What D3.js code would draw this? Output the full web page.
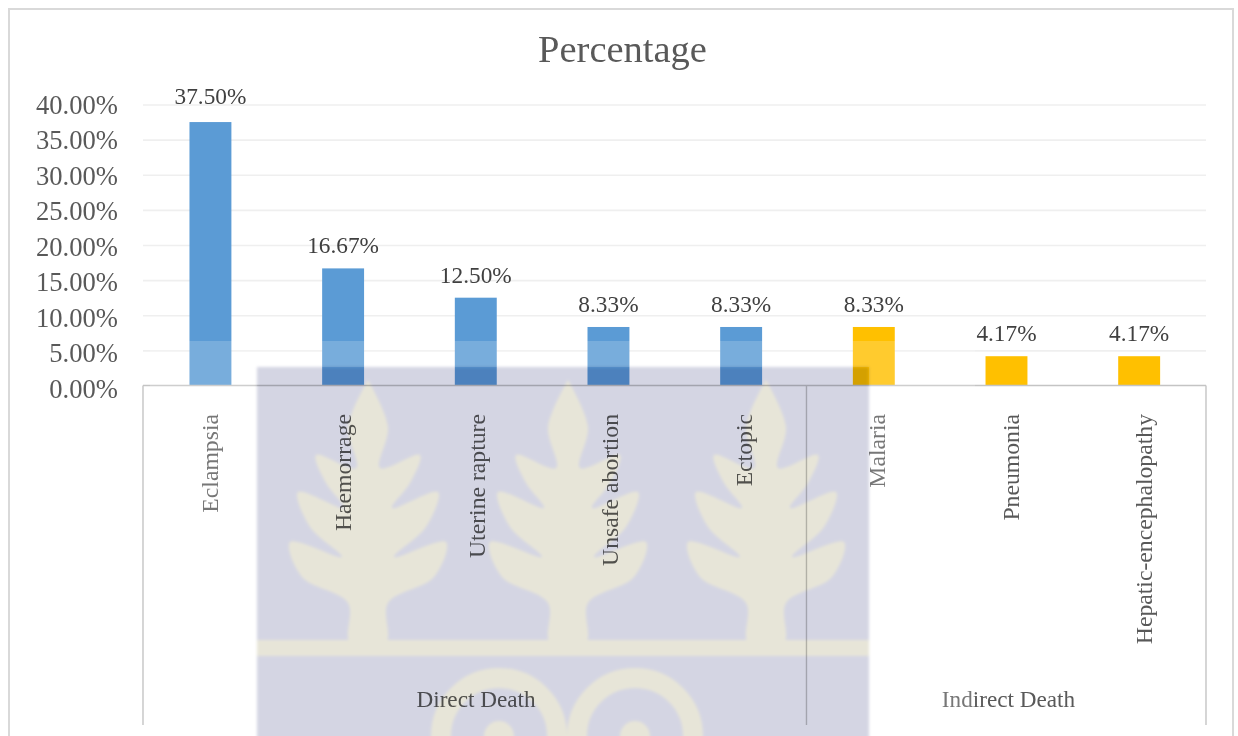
<!DOCTYPE html>
<html><head><meta charset="utf-8">
<style>html,body{margin:0;padding:0;background:#fff;overflow:hidden}svg{display:block}</style>
<script src="https://cdn.jsdelivr.net/npm/d3@7/dist/d3.min.js"></script>
</head><body><div id="c"></div>
<script>
const categories=["Eclampsia","Haemorrage","Uterine rapture","Unsafe abortion","Ectopic","Malaria","Pneumonia","Hepatic-encephalopathy"];
const groups=["Direct Death","Direct Death","Direct Death","Direct Death","Direct Death","Indirect Death","Indirect Death","Indirect Death"];
const values=[37.5,16.67,12.5,8.33,8.33,8.33,4.17,4.17];
const yTicks=[0,5,10,15,20,25,30,35,40];
const groupColors={"Direct Death":"#5b9bd5","Indirect Death":"#ffc000"};
const W=1238,H=736,font="'Liberation Serif','Times New Roman',serif",ink="#595959";
const svg=d3.select("#c").append("svg").attr("width",W).attr("height",H).style("font-family",font);
const defs=svg.append("defs");
defs.append("filter").attr("id","soft").attr("x","-5%").attr("y","-5%").attr("width","110%").attr("height","110%")
  .append("feGaussianBlur").attr("stdDeviation",1.6);
svg.append("rect").attr("x",9).attr("y",9).attr("width",1224).attr("height",H).attr("fill","#fff").attr("stroke","#d9d9d9").attr("stroke-width",2);
const x=d3.scaleBand().domain(categories).range([144.1,1205.5]).paddingInner(.684).paddingOuter(.342);
const labelX=d3.scalePoint().domain(categories).range([218,1152]);
const y=d3.scaleLinear().domain([0,40]).range([385.5,104.5]);
svg.append("text").attr("x",622.5).attr("y",62).attr("text-anchor","middle").attr("font-size",38.5).attr("fill",ink).text("Percentage");
// gridlines
const grid=svg.append("g").attr("transform","translate(143,0)").call(d3.axisRight(y).tickValues(yTicks.slice(1)).tickSize(1063).tickFormat(""));
grid.select(".domain").remove();
grid.selectAll("line").attr("stroke","#efefef").attr("stroke-width",1.6);
// y labels
const ya=svg.append("g").attr("transform","translate(118,0)").call(d3.axisLeft(y).tickValues(yTicks).tickSize(0).tickPadding(0).tickFormat(d=>d3.format(".2f")(d)+"%"));
ya.select(".domain").remove();
ya.selectAll("text").attr("font-size",26.6).attr("font-family",font).attr("fill",ink).attr("dy",d=>(8.5+3*(1-d/40))+"px");
// bars
svg.append("g").selectAll("rect").data(values).join("rect")
  .attr("x",(d,i)=>x(categories[i])).attr("width",x.bandwidth())
  .attr("y",d=>y(d)).attr("height",d=>y(0)-y(d)).attr("fill",(d,i)=>groupColors[groups[i]]);
// value labels
svg.append("g").selectAll("text").data(values).join("text")
  .attr("x",(d,i)=>x(categories[i])+x.bandwidth()/2).attr("y",d=>y(d)-(d>30?18:15))
  .attr("text-anchor","middle").attr("font-size",23.3).attr("fill","#404040").text(d=>d3.format(".2f")(d)+"%");
// category axis structure
const ax=svg.append("g").attr("stroke","#c4c4c4").attr("stroke-width",1.4);
const groupNames=[...new Set(groups)];
const step=x.step(),left=143,right=1206;
const sepX=x(categories[groups.indexOf(groupNames[1])])-(step-x.bandwidth())/2-1;
ax.append("line").attr("x1",left).attr("x2",right).attr("y1",y(0)).attr("y2",y(0));
[left,sepX,right].forEach(v=>ax.append("line").attr("x1",v).attr("x2",v).attr("y1",y(0)).attr("y2",725));
// category labels
svg.append("g").selectAll("text").data(categories).join("text")
  .attr("transform",d=>`translate(${labelX(d)},414) rotate(-90)`)
  .attr("text-anchor","end").attr("font-size",23.7).attr("fill",ink).text(d=>d);
// group labels
svg.append("g").selectAll("text").data(groupNames).join("text")
  .attr("x",(d,i)=>i===0?476:1008.5).attr("y",707).attr("text-anchor","middle").attr("font-size",23.2).attr("fill",ink).text(d=>d);
// scanned watermark: faint white sheet around the tinted crest, which is multiplied over the chart
svg.append("path").attr("fill-rule","evenodd").attr("fill","#fff").attr("opacity",.18)
  .attr("d","M150 341H975V736H150ZM257 367V736H869V367Z");
const wm=svg.append("g").style("mix-blend-mode","multiply").attr("filter","url(#soft)");
wm.append("rect").attr("x",257).attr("y",367).attr("width",612).attr("height",380).attr("fill","#d4d5e3");
const cream="#e7e5d8";
const half=[[0,380],[20,427],[12,468],[52,455],[42,483],[24,508],[70,492],[58,527],[26,557],[78,542],[66,577],[20,603],[18,642]];
const leaf=d3.line().curve(d3.curveCatmullRom.alpha(.5));
[368,568,766].forEach(cx=>{
  const pts=half.map(p=>[cx+p[0],p[1]]);
  const back=half.slice().reverse().map(p=>[cx-p[0],p[1]]);
  wm.append("path").attr("d",leaf(pts.concat(back))+"Z").attr("fill",cream);
});
wm.append("rect").attr("x",257).attr("y",640).attr("width",612).attr("height",16).attr("fill",cream);
[[499],[635]].forEach(([cx])=>{
  wm.append("circle").attr("cx",cx).attr("cy",736).attr("r",58).attr("fill","none").attr("stroke",cream).attr("stroke-width",20);
  wm.append("circle").attr("cx",cx).attr("cy",736).attr("r",15).attr("fill",cream);
});
</script></body></html>
